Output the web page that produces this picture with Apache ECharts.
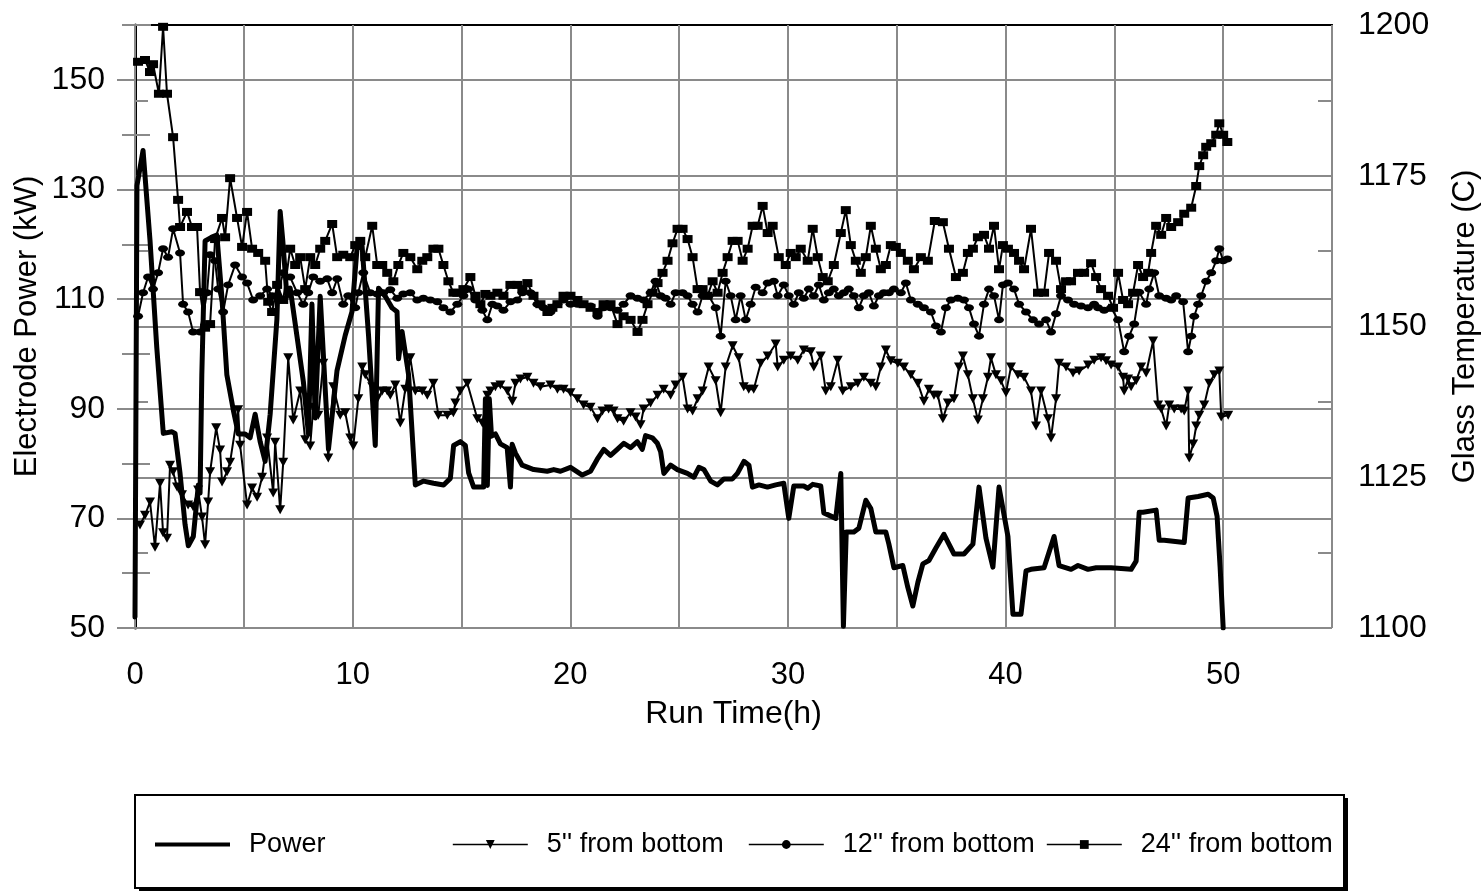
<!DOCTYPE html>
<html><head><meta charset="utf-8">
<script src="https://cdn.jsdelivr.net/npm/echarts@6/dist/echarts.min.js"></script>
<style>html,body{margin:0;padding:0;background:#fff}#c{width:1484px;height:893px}</style>
</head><body><div id="c"></div>
<script>
// ---- data (hours, value) ----
const powerH=[0,0.09,0.37,0.69,1.0,1.30,1.69,1.84,2.07,2.30,2.45,2.68,2.91,2.99,3.07,3.22,3.53,3.76,3.99,4.22,4.52,4.75,5.06,5.29,5.52,5.75,5.98,6.21,6.52,6.67,6.79,6.98,7.13,7.44,7.74,7.97,8.13,8.28,8.51,8.89,9.28,9.66,9.97,10.20,10.43,10.73,11.04,11.19,11.50,11.81,12.04,12.11,12.27,12.57,12.88,13.26,13.72,14.18,14.49,14.64,14.95,15.18,15.33,15.56,16.02,16.10,16.19,16.28,16.38,16.56,16.79,17.10,17.25,17.33,17.48,17.79,18.32,18.94,19.24,19.55,20.01,20.55,20.93,21.24,21.54,21.85,22.16,22.46,22.77,23.08,23.31,23.46,23.77,24.00,24.15,24.30,24.61,24.92,25.38,25.68,25.91,26.14,26.45,26.76,27.06,27.45,27.68,27.98,28.21,28.37,28.67,29.06,29.44,29.81,30.04,30.27,30.73,30.91,31.14,31.51,31.65,32.20,32.43,32.55,32.68,33.03,33.26,33.58,33.81,34.04,34.50,34.64,34.87,35.28,35.51,35.74,35.97,36.20,36.48,36.80,37.17,37.63,38.09,38.50,38.78,39.10,39.42,39.70,40.11,40.34,40.71,40.94,41.17,41.77,42.23,42.46,43.01,43.33,43.79,44.16,44.85,45.77,46.00,46.14,46.32,46.92,47.06,47.29,48.21,48.39,48.85,49.31,49.54,49.72,49.86,50.0];
const powerV=[52,130.7,137.1,120.7,101.2,85.5,85.8,85.5,78.2,68.9,65.0,66.7,76.1,74.6,96.2,120.6,121.3,121.7,110.5,96.2,89.7,85.4,85.4,84.7,89.0,84.0,80.4,89.0,106.3,126.0,120.7,110.5,112.0,103.3,94.8,85.4,109.1,88.3,110.5,82.6,96.9,103.4,107.7,119.2,119.9,103.4,83.3,112.0,110.5,108.4,107.7,99.1,104.1,96.2,76.1,76.8,76.4,76.1,77.3,83.3,84.0,83.3,78.3,75.7,75.7,91.8,76.0,91.8,85.0,85.4,83.6,82.9,75.7,83.5,81.9,79.7,78.9,78.6,78.9,78.6,79.3,77.9,78.6,80.8,82.6,81.5,82.6,83.7,82.9,84.0,82.6,85.1,84.7,83.7,82.2,78.2,79.7,78.9,78.2,77.5,79.3,78.9,76.8,76.1,77.2,77.2,78.2,80.4,79.7,75.7,76.1,75.7,76.1,76.4,70.0,75.9,75.9,75.5,76.2,75.9,71.0,70.0,78.2,50.3,67.5,67.5,68.2,73.3,71.8,67.5,67.5,65.3,61.0,61.4,57.4,54.0,58.3,61.7,62.3,64.6,67.1,63.5,63.5,65.3,75.7,66.4,61.1,75.7,66.7,52.5,52.5,60.4,60.7,61.0,66.7,61.4,60.7,61.4,60.7,61.0,61.0,60.7,62.2,71.1,71.1,71.5,66.0,66.0,65.6,73.7,74.0,74.4,73.7,70.4,61.0,50.0];

const t5H=[0.23,0.46,0.69,0.92,1.15,1.29,1.47,1.61,1.75,1.93,2.16,2.44,2.67,2.90,3.08,3.22,3.36,3.45,3.73,3.91,4.00,4.23,4.37,4.74,4.83,5.15,5.38,5.61,5.84,6.07,6.35,6.44,6.67,6.81,7.04,7.27,7.59,7.82,8.05,8.19,8.42,8.65,8.88,9.11,9.43,9.66,9.89,10.03,10.26,10.44,10.58,10.90,11.13,11.36,11.59,11.73,11.96,12.19,12.42,12.65,12.88,13.20,13.43,13.71,13.94,14.35,14.63,14.72,14.95,15.27,15.73,15.96,16.19,16.33,16.56,16.79,17.11,17.34,17.48,17.71,18.03,18.31,18.63,19.09,19.41,19.69,20.01,20.33,20.61,20.93,21.25,21.48,21.76,21.99,22.17,22.45,22.77,23.00,23.23,23.37,23.69,24.01,24.29,24.61,24.84,25.16,25.39,25.62,25.85,26.08,26.36,26.68,26.91,27.14,27.46,27.74,27.97,28.20,28.43,28.75,29.07,29.44,29.53,29.81,30.13,30.45,30.73,31.05,31.19,31.51,31.74,31.97,32.29,32.52,32.89,33.21,33.49,33.81,34.04,34.27,34.50,34.73,35.05,35.33,35.65,35.97,36.25,36.48,36.71,36.89,37.12,37.35,37.63,37.86,38.04,38.27,38.50,38.73,38.96,39.19,39.33,39.56,39.79,40.02,40.25,40.57,40.85,41.17,41.40,41.63,41.95,42.09,42.32,42.46,42.78,43.10,43.38,43.79,44.07,44.39,44.62,44.85,45.17,45.40,45.45,45.63,45.77,46.00,46.23,46.46,46.78,47.01,47.15,47.38,47.52,47.75,48.07,48.21,48.39,48.44,48.62,48.76,48.90,49.13,49.36,49.59,49.82,49.91,50.23];
const t5V=[1117.1,1118.7,1120.9,1113.4,1124.0,1115.8,1114.9,1127.0,1125.9,1123.4,1122.1,1120.4,1120.1,1122.9,1118.4,1113.8,1120.9,1125.9,1133.2,1129.5,1124.2,1125.9,1127.5,1136.2,1130.3,1120.4,1123.2,1121.7,1125.0,1131.5,1122.4,1130.8,1119.6,1127.5,1144.8,1134.5,1139.3,1131.2,1130.2,1136.6,1135.3,1143.9,1128.2,1140.0,1135.3,1135.7,1131.5,1130.2,1138.0,1143.3,1142.0,1140.0,1138.0,1139.3,1139.3,1138.6,1140.3,1134.0,1139.6,1144.8,1139.3,1139.3,1138.6,1140.6,1135.3,1135.3,1135.7,1137.3,1139.3,1140.6,1134.7,1134.0,1138.6,1139.3,1140.0,1140.3,1139.3,1137.6,1140.6,1141.3,1141.6,1140.6,1140.0,1140.3,1139.6,1139.6,1139.0,1138.0,1137.0,1136.6,1134.7,1136.0,1136.3,1136.0,1134.7,1134.3,1135.7,1135.0,1133.7,1136.3,1137.3,1138.6,1139.6,1138.6,1140.3,1141.6,1136.3,1136.0,1138.0,1139.3,1143.3,1141.0,1135.7,1143.3,1146.8,1144.8,1140.0,1139.6,1139.6,1143.9,1145.1,1147.1,1143.3,1144.4,1145.1,1144.4,1146.1,1145.8,1143.3,1145.1,1139.3,1140.0,1144.4,1139.3,1140.0,1140.6,1141.6,1140.6,1140.0,1143.3,1146.1,1144.3,1143.9,1143.3,1142.0,1140.6,1137.6,1139.6,1138.6,1138.6,1134.7,1137.3,1138.0,1143.3,1145.1,1142.0,1138.0,1134.5,1138.0,1141.6,1144.8,1142.0,1141.0,1139.0,1143.3,1142.0,1141.6,1139.3,1133.5,1139.3,1134.7,1131.5,1138.0,1143.9,1143.3,1142.3,1142.6,1143.6,1144.4,1144.8,1144.3,1143.6,1143.3,1141.6,1139.3,1141.3,1140.0,1141.0,1143.3,1142.3,1147.6,1137.0,1136.3,1133.5,1137.0,1136.3,1136.3,1136.0,1139.3,1128.2,1130.5,1133.5,1135.3,1137.0,1140.6,1142.0,1142.6,1135.0,1135.3];

const t12H=[0.14,0.37,0.60,0.83,1.06,1.29,1.52,1.75,2.07,2.21,2.44,2.67,2.99,3.31,3.45,3.68,3.82,4.05,4.28,4.60,4.92,5.15,5.43,5.75,6.07,6.30,6.53,6.81,7.13,7.45,7.73,7.96,8.19,8.51,8.83,9.06,9.29,9.57,9.80,10.12,10.26,10.49,10.81,11.13,11.41,11.73,12.05,12.33,12.65,12.97,13.25,13.57,13.89,14.17,14.49,14.81,15.09,15.32,15.64,15.96,16.19,16.42,16.65,16.93,17.25,17.57,17.80,18.17,18.49,18.77,19.09,19.41,19.69,20.01,20.33,20.61,20.93,21.25,21.53,21.85,22.17,22.45,22.77,23.09,23.37,23.69,23.92,24.15,24.38,24.61,24.84,25.16,25.39,25.62,25.85,26.08,26.36,26.68,26.91,27.14,27.37,27.60,27.83,28.06,28.29,28.52,28.84,29.07,29.35,29.53,29.81,30.04,30.27,30.50,30.73,30.96,31.19,31.42,31.65,31.88,32.11,32.34,32.57,32.80,33.03,33.26,33.49,33.72,33.95,34.18,34.41,34.64,34.87,35.19,35.42,35.65,35.97,36.25,36.57,36.80,37.03,37.26,37.49,37.81,38.09,38.32,38.55,38.78,39.01,39.24,39.47,39.70,39.88,40.11,40.39,40.62,40.94,41.26,41.54,41.86,42.09,42.32,42.55,42.87,43.15,43.47,43.79,44.07,44.25,44.53,44.85,45.17,45.45,45.68,45.91,46.14,46.46,46.60,46.83,47.06,47.38,47.61,47.84,48.16,48.39,48.53,48.67,48.85,48.99,49.22,49.45,49.68,49.82,50.00,50.19];
const t12V=[1151.7,1155.6,1158.2,1156.2,1158.9,1162.9,1161.5,1166.2,1162.2,1153.7,1152.4,1149.1,1149.1,1155.6,1161.9,1160.9,1156.2,1152.4,1156.9,1160.2,1158.2,1157.2,1154.4,1155.1,1156.2,1155.1,1155.1,1158.9,1158.2,1155.6,1153.7,1155.6,1158.2,1157.5,1157.9,1155.6,1157.9,1153.7,1155.1,1153.1,1155.6,1158.9,1155.6,1155.4,1155.6,1156.1,1154.7,1155.4,1155.6,1154.4,1154.7,1154.4,1154.1,1153.1,1152.4,1153.7,1155.1,1156.2,1154.4,1152.7,1151.1,1153.7,1153.4,1152.7,1154.1,1154.4,1155.6,1155.6,1153.7,1153.1,1152.4,1153.7,1154.4,1153.7,1153.7,1153.7,1153.4,1151.7,1153.1,1153.1,1152.7,1153.7,1155.1,1154.7,1154.4,1155.6,1157.5,1155.1,1154.7,1153.7,1155.6,1155.6,1155.1,1153.7,1152.4,1155.1,1155.1,1153.1,1148.4,1157.5,1155.1,1151.1,1155.1,1151.1,1153.7,1156.5,1155.6,1157.2,1157.5,1155.1,1156.9,1155.1,1153.7,1155.6,1154.7,1156.2,1155.1,1156.9,1154.4,1155.6,1156.2,1155.1,1155.6,1156.2,1155.1,1153.1,1155.1,1155.6,1153.4,1155.1,1155.6,1155.6,1156.2,1155.6,1157.2,1154.4,1153.7,1153.1,1152.4,1150.1,1149.1,1153.1,1154.4,1154.7,1154.4,1153.1,1150.4,1148.4,1153.7,1156.2,1155.1,1151.1,1156.9,1157.2,1156.2,1153.7,1152.4,1151.1,1150.4,1151.1,1149.1,1152.1,1155.1,1154.4,1153.7,1153.4,1153.1,1153.7,1153.1,1152.7,1153.1,1151.1,1145.8,1148.4,1150.4,1155.7,1153.7,1156.2,1158.9,1155.1,1154.7,1154.4,1155.1,1154.1,1145.8,1148.4,1151.7,1153.7,1155.1,1157.5,1158.9,1160.9,1162.9,1160.9,1161.2];

const t24H=[0.14,0.46,0.69,0.83,1.10,1.29,1.47,1.75,1.98,2.07,2.39,2.62,2.85,2.99,3.22,3.45,3.68,4.00,4.14,4.37,4.69,4.92,5.15,5.38,5.66,5.98,6.12,6.30,6.53,6.81,7.13,7.36,7.59,7.82,8.05,8.28,8.51,8.74,9.06,9.29,9.57,9.89,10.12,10.35,10.58,10.90,11.13,11.36,11.59,11.87,12.10,12.33,12.65,12.97,13.20,13.43,13.71,13.94,14.17,14.40,14.63,14.81,15.09,15.41,15.64,15.87,16.10,16.33,16.65,16.93,17.25,17.57,17.80,18.03,18.31,18.63,18.95,19.18,19.41,19.69,20.01,20.33,20.61,20.93,21.25,21.53,21.85,22.17,22.45,22.77,23.09,23.32,23.55,23.78,24.01,24.24,24.47,24.70,24.93,25.16,25.39,25.62,25.85,26.08,26.31,26.54,26.77,27.00,27.23,27.46,27.69,27.92,28.15,28.38,28.61,28.84,29.07,29.30,29.58,29.90,30.13,30.36,30.59,30.91,31.14,31.37,31.60,31.83,32.11,32.43,32.66,32.89,33.12,33.35,33.58,33.81,34.04,34.27,34.50,34.73,34.96,35.19,35.51,35.79,36.11,36.43,36.75,37.12,37.40,37.72,38.04,38.27,38.50,38.73,39.01,39.24,39.47,39.70,39.88,40.11,40.39,40.62,40.85,41.17,41.49,41.77,42.00,42.32,42.55,42.78,43.01,43.33,43.61,43.93,44.16,44.39,44.71,44.94,45.17,45.40,45.63,45.86,46.09,46.32,46.55,46.69,46.92,47.15,47.38,47.61,47.93,48.21,48.53,48.76,48.90,49.08,49.22,49.45,49.68,49.82,50.00,50.19];
const t24V=[1193.9,1194.2,1192.2,1193.5,1188.6,1199.7,1188.6,1181.4,1171.0,1166.5,1169.0,1166.5,1166.5,1155.7,1149.8,1150.4,1164.5,1168.0,1164.8,1174.6,1168.0,1163.2,1169.0,1162.9,1162.2,1160.9,1154.1,1152.4,1156.9,1154.4,1162.9,1160.2,1161.5,1156.2,1161.5,1160.2,1162.9,1164.2,1167.0,1161.5,1161.9,1161.5,1163.5,1164.2,1161.5,1166.7,1160.2,1160.2,1158.9,1157.5,1160.2,1162.2,1161.5,1159.5,1160.9,1161.5,1162.9,1162.9,1160.2,1157.5,1155.6,1155.6,1156.2,1158.2,1155.1,1153.7,1155.4,1155.1,1155.6,1155.1,1156.9,1156.9,1156.2,1157.2,1155.1,1153.7,1152.4,1153.1,1153.7,1155.1,1155.1,1154.4,1153.7,1153.1,1152.4,1153.7,1153.7,1150.4,1151.7,1151.1,1149.1,1151.1,1153.7,1155.6,1157.2,1158.9,1160.9,1163.8,1166.2,1166.2,1164.5,1161.5,1156.2,1156.2,1155.1,1157.5,1155.6,1158.9,1161.5,1164.2,1164.2,1160.9,1162.9,1166.7,1166.7,1170.0,1165.5,1166.7,1161.5,1160.2,1162.2,1161.5,1162.9,1160.9,1166.2,1161.5,1158.2,1157.5,1160.2,1165.5,1169.3,1163.5,1160.9,1158.9,1161.5,1166.7,1162.9,1159.5,1160.2,1163.5,1163.2,1162.2,1160.9,1159.5,1161.5,1160.9,1167.5,1167.3,1162.9,1158.2,1158.9,1162.2,1162.9,1164.8,1165.2,1162.9,1166.7,1159.5,1163.5,1162.9,1162.2,1160.9,1159.5,1166.2,1155.6,1155.6,1162.2,1160.9,1156.2,1157.5,1157.5,1158.9,1158.9,1160.5,1158.2,1156.2,1155.1,1153.1,1158.9,1154.4,1153.7,1155.6,1160.2,1158.2,1158.9,1162.2,1166.7,1165.2,1168.0,1166.5,1167.3,1168.7,1169.7,1173.3,1176.6,1178.4,1179.8,1180.4,1181.8,1183.7,1181.8,1180.6];

const seriesNames=['Power',"5'' from bottom","12'' from bottom","24'' from bottom"];
const xLabelEvery=10;

function pairs(h,v){const n=Math.min(h.length,v.length);const out=[];for(let i=0;i<n;i++)out.push([h[i],v[i]]);return out;}

const FONT='"Liberation Sans", Arial, Helvetica, sans-serif';
const GRID='#8a8a8a';
const INK='#000';

const chart=echarts.init(document.getElementById('c'),null,{renderer:'canvas'});
const txt=(size)=>({color:INK,fontSize:size,fontFamily:FONT});

const legendLefts=[150,447,743,1041];
const option={
  animation:false,
  backgroundColor:'#fff',
  grid:{left:135,right:152,top:25,bottom:265,containLabel:false,outerBoundsMode:'none'},
  xAxis:[
    {type:'value',min:0,max:55,interval:5,position:'bottom',
     axisLine:{show:true,lineStyle:{color:INK,width:2}},
     axisTick:{show:true,length:9,lineStyle:{color:GRID,width:2}},
     axisLabel:Object.assign({formatter:v=>(v%xLabelEvery===0&&v<=50)?String(v):'',margin:32},txt(31)),
     splitLine:{show:true,lineStyle:{color:GRID,width:2}},
     name:'Run Time(h)',nameLocation:'middle',nameGap:70,nameTextStyle:txt(32)},
    {type:'value',min:0,max:55,position:'top',
     axisLine:{show:true,lineStyle:{color:INK,width:2}},
     axisTick:{show:false},axisLabel:{show:false},splitLine:{show:false}}
  ],
  yAxis:[
    {type:'value',min:50,max:160,interval:20,position:'left',
     axisLine:{show:true,lineStyle:{color:INK,width:3}},
     axisTick:{show:true,length:18,lineStyle:{color:GRID,width:2}},
     axisLabel:Object.assign({formatter:v=>v>=160?'':String(v),margin:30,showMaxLabel:false},txt(32)),
     splitLine:{show:true,lineStyle:{color:GRID,width:2}},
     name:'Electrode Power (kW)',nameLocation:'middle',nameGap:92,nameMoveOverlap:false,nameRotate:90,nameTextStyle:txt(31)},
    {type:'value',min:1100,max:1200,interval:25,position:'right',
     axisLine:{show:true,lineStyle:{color:GRID,width:2}},
     axisTick:{show:true,length:16,lineStyle:{color:GRID,width:2}},
     minorTick:{show:true,splitNumber:2,length:13,lineStyle:{color:GRID,width:2}},
     axisLabel:Object.assign({formatter:v=>String(v),margin:26},txt(32)),
     splitLine:{show:true,lineStyle:{color:GRID,width:2}},
     name:'Glass Temperature (C)',nameLocation:'middle',nameGap:118,nameRotate:90,nameTextStyle:txt(31)},
    // overlay axes for the crossing minor ticks
    {type:'value',inverse:true,min:0,max:110,interval:20,position:'left',
     axisLine:{show:false},axisTick:{show:true,length:13,lineStyle:{color:GRID,width:2}},
     axisLabel:{show:false},splitLine:{show:false}},
    {type:'value',inverse:true,min:0,max:110,interval:20,position:'left',
     axisLine:{show:false},axisTick:{show:true,inside:true,length:15,lineStyle:{color:GRID,width:2}},
     axisLabel:{show:false},splitLine:{show:false}},
    {type:'value',min:1100,max:1200,interval:25,position:'right',
     axisLine:{show:false},axisTick:{show:false,inside:true},
     minorTick:{show:true,splitNumber:2,length:14,lineStyle:{color:GRID,width:2}},
     axisLabel:{show:false},splitLine:{show:false}}
  ],
  graphic:[
    {type:'rect',z:1,shape:{x:139,y:798,width:1209,height:93},style:{fill:INK,stroke:null}},
    {type:'rect',z:2,shape:{x:135,y:795,width:1209,height:93},style:{fill:'#fff',stroke:INK,lineWidth:2}}
  ],
  legend:legendLefts.map((lx,i)=>{
    const base={data:[seriesNames[i]],left:lx,z:10,itemWidth:75,
      textStyle:Object.assign({padding:[0,0,0,14]},txt(27))};
    if(i===0){
      base.data=[{name:seriesNames[0],icon:'rect'}];
      base.itemHeight=4; base.top=826;
      base.itemStyle={color:INK};
    } else {
      base.itemHeight=11; base.top=826;
      base.lineStyle={width:1.6,color:INK};
    }
    return base;
  }),
  series:[
    {name:seriesNames[0],type:'line',xAxisIndex:0,yAxisIndex:0,data:pairs(powerH,powerV),
     symbol:'none',showSymbol:false,lineStyle:{color:INK,width:5,cap:'round',join:'round'},itemStyle:{color:INK},z:3},
    {name:seriesNames[1],type:'line',xAxisIndex:0,yAxisIndex:1,data:pairs(t5H,t5V),
     symbol:'triangle',symbolRotate:180,symbolSize:[10,9],lineStyle:{color:INK,width:2},itemStyle:{color:INK},z:4},
    {name:seriesNames[2],type:'line',xAxisIndex:0,yAxisIndex:1,data:pairs(t12H,t12V),
     symbol:'circle',symbolSize:[10,7],lineStyle:{color:INK,width:2},itemStyle:{color:INK},z:4},
    {name:seriesNames[3],type:'line',xAxisIndex:0,yAxisIndex:1,data:pairs(t24H,t24V),
     symbol:'rect',symbolSize:[10,8],lineStyle:{color:INK,width:2},itemStyle:{color:INK},z:4}
  ]
};
chart.setOption(option);
</script>
</body></html>
